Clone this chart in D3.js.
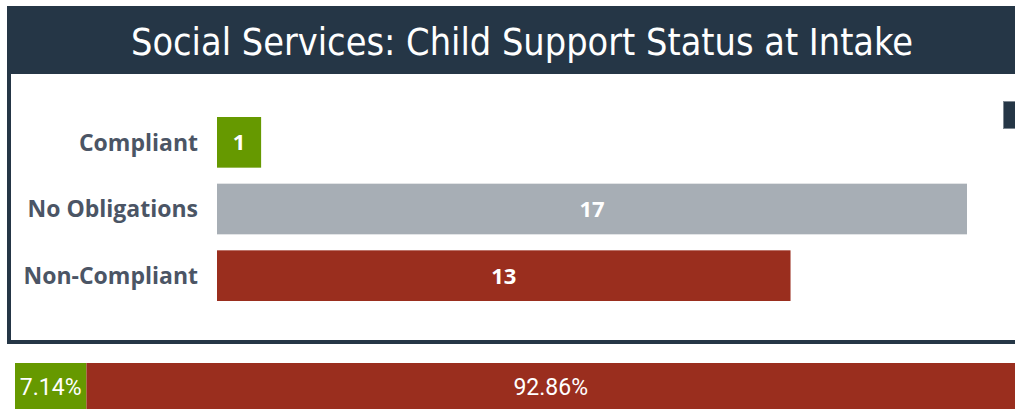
<!DOCTYPE html>
<html>
<head>
<meta charset="utf-8">
<script src="https://cdn.jsdelivr.net/npm/d3@7"></script>
<style>
  html, body { margin: 0; padding: 0; background: #ffffff; overflow: hidden; }
  svg { display: block; }
</style>
</head>
<body>
<svg id="chart" width="1015" height="409"></svg>
<script>
// ---- data ----
const title = "Social Services: Child Support Status at Intake";
const categories = ["Compliant", "No Obligations", "Non-Compliant"];
const counts = [1, 17, 13];
const barColors = ["#669900", "#a7aeb5", "#9a2e1e"];

const shareCategories = ["Compliant", "Non-Compliant"];
const shareCounts = [1, 13];
const shareLabels = ["7.14%", "92.86%"];
const shareColors = ["#669900", "#9a2e1e"];

// ---- drawing ----
const svg = d3.select("#chart");
const dark = "#253646";

// panel border (left + bottom)
svg.append("rect").attr("x", 7).attr("y", 6).attr("width", 4).attr("height", 338).attr("fill", dark);
svg.append("rect").attr("x", 7).attr("y", 340).attr("width", 1008).attr("height", 4).attr("fill", dark);

// title bar
svg.append("rect").attr("x", 7).attr("y", 6).attr("width", 1008).attr("height", 68).attr("fill", dark);
svg.append("text")
  .attr("x", 131).attr("y", 55)
  .attr("fill", "#ffffff")
  .style("font-family", "'DejaVu Sans Condensed', 'Liberation Sans Narrow', 'Roboto', sans-serif")
  .style("font-stretch", "condensed")
  .style("font-size", "37px")
  .attr("textLength", 782)
  .attr("lengthAdjust", "spacingAndGlyphs")
  .text(title);

// small element at right edge
svg.append("rect").attr("x", 1003.5).attr("y", 101.5).attr("width", 14).attr("height", 27)
  .attr("fill", dark).attr("stroke", "#7d8791").attr("stroke-width", 1);

// bar chart
const x = d3.scaleLinear().domain([0, 17]).range([217, 967]);
const y = d3.scaleBand().domain(categories).range([117, 301]).paddingInner(0.24).paddingOuter(0);

const g = svg.append("g");
g.selectAll("rect.bar").data(categories).join("rect")
  .attr("class", "bar")
  .attr("x", x(0))
  .attr("y", d => y(d))
  .attr("width", (d, i) => x(counts[i]) - x(0))
  .attr("height", y.bandwidth())
  .attr("fill", (d, i) => barColors[i]);

g.selectAll("text.val").data(categories).join("text")
  .attr("class", "val")
  .attr("x", (d, i) => (x(0) + x(counts[i])) / 2)
  .attr("y", d => y(d) + y.bandwidth() / 2)
  .attr("dy", "0.36em")
  .attr("text-anchor", "middle")
  .attr("fill", "#ffffff")
  .style("font-family", "'Open Sans', 'Noto Sans', sans-serif")
  .style("font-weight", "700")
  .style("font-size", "22px")
  .text((d, i) => counts[i]);

const yAxis = d3.axisLeft(y).tickSize(0).tickPadding(19);
const ag = svg.append("g").attr("transform", `translate(${x(0)},0)`).call(yAxis);
ag.select(".domain").remove();
ag.selectAll("text")
  .attr("fill", "#4b5565")
  .attr("dy", "0.36em")
  .style("font-family", "'Open Sans', 'Noto Sans', sans-serif")
  .style("font-weight", "700")
  .style("font-size", "23px");

// bottom share bar
const total = d3.sum(shareCounts);
const xs = d3.scaleLinear().domain([0, total]).range([15, 1015]);
const cum = d3.cumsum([0, ...shareCounts]);
const sg = svg.append("g");
sg.selectAll("rect").data(shareCategories).join("rect")
  .attr("x", (d, i) => xs(cum[i]))
  .attr("y", 363)
  .attr("width", (d, i) => xs(cum[i + 1]) - xs(cum[i]))
  .attr("height", 46)
  .attr("fill", (d, i) => shareColors[i]);
sg.selectAll("text").data(shareCategories).join("text")
  .attr("x", (d, i) => (xs(cum[i]) + xs(cum[i + 1])) / 2)
  .attr("y", 387)
  .attr("dy", "0.36em")
  .attr("text-anchor", "middle")
  .attr("fill", "#ffffff")
  .style("font-family", "'Roboto', 'Noto Sans', sans-serif")
  .style("font-size", "23px")
  .text((d, i) => shareLabels[i]);
</script>
</body>
</html>
